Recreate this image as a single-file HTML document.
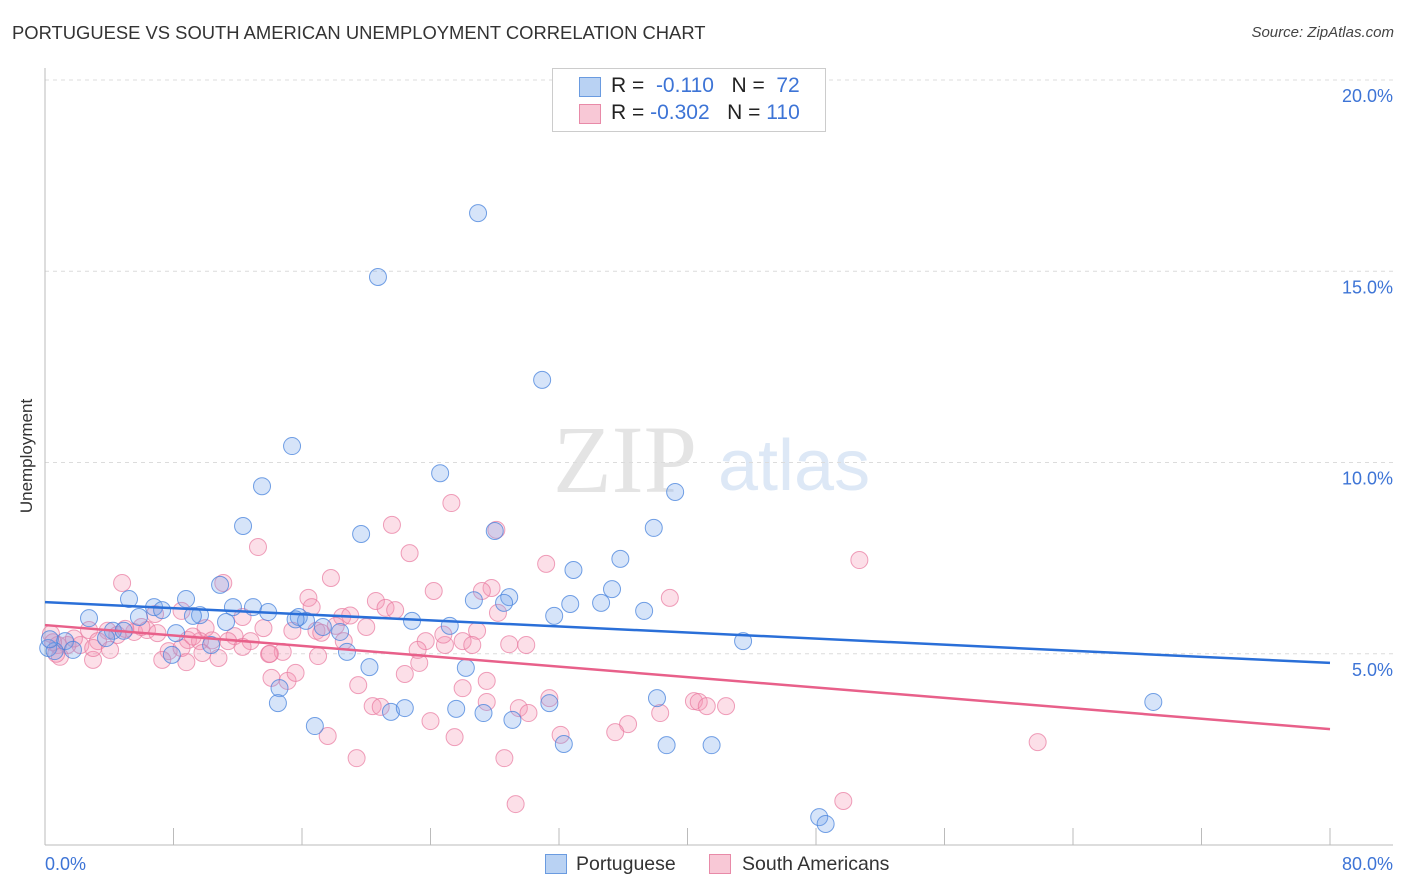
<!DOCTYPE html>
<html><head><meta charset="utf-8"><style>
body{margin:0;background:#fff;font-family:"Liberation Sans",sans-serif;}
#wrap{position:relative;width:1406px;height:892px;overflow:hidden;}
.t{position:absolute;white-space:nowrap;}
</style></head><body>
<div id="wrap">
<div class="t" style="left:12px;top:22px;font-size:18.4px;color:#333;">PORTUGUESE VS SOUTH AMERICAN UNEMPLOYMENT CORRELATION CHART</div>
<div class="t" style="right:12px;top:24px;font-size:15px;color:#444;font-style:italic;">Source: ZipAtlas.com</div>
<div class="t" style="left:27px;top:456px;font-size:17px;color:#333;transform:translate(-50%,-50%) rotate(-90deg);">Unemployment</div>
<svg id="plot" width="1406" height="892" style="position:absolute;left:0;top:0"></svg>
<div style="position:absolute;left:552px;top:68px;width:272px;height:62px;border:1px solid #ccc;background:#fff;font-size:21px;">
 <div style="position:absolute;left:26px;top:8px;width:20px;height:18px;background:#b9d2f3;border:1px solid #6a9be0;"></div>
 <div class="t" style="left:58px;top:5px;color:#222;">R = &nbsp;<span style="color:#3d74d6">-0.110</span> &nbsp;&nbsp;N = &nbsp;<span style="color:#3d74d6">72</span></div>
 <div style="position:absolute;left:26px;top:35px;width:20px;height:18px;background:#f8c8d6;border:1px solid #e88aa8;"></div>
 <div class="t" style="left:58px;top:32px;color:#222;">R = <span style="color:#3d74d6">-0.302</span> &nbsp;&nbsp;N = <span style="color:#3d74d6">110</span></div>
</div>
<div style="position:absolute;left:545px;top:852px;font-size:19.5px;color:#333;">
 <div style="position:absolute;left:0;top:2px;width:20px;height:18px;background:#b9d2f3;border:1px solid #6a9be0;"></div>
 <div class="t" style="left:31px;top:1px;">Portuguese</div>
 <div style="position:absolute;left:164px;top:2px;width:20px;height:18px;background:#f8c8d6;border:1px solid #e88aa8;"></div>
 <div class="t" style="left:197px;top:1px;">South Americans</div>
</div>
</div>
<script>
const xTicks=[0,8,16,24,32,40,48,56,64,72,80];
const yTicks=[5,10,15,20];
const yTickLabels=["5.0%","10.0%","15.0%","20.0%"];
const xEndLabels=["0.0%","80.0%"];
const portX=[26.96,20.73,30.95,15.38,24.6,13.51,39.23,12.33,19.68,28.0,37.9,35.82,32.9,10.9,35.3,11.7,5.23,8.78,6.79,28.9,28.58,32.7,34.62,37.3,31.7,7.29,12.95,13.89,2.74,5.85,9.65,9.21,15.8,16.25,22.85,11.27,25.2,43.46,18.37,4.23,4.9,8.16,1.25,3.8,10.34,0.2,0.6,1.74,18.8,7.9,20.2,26.2,14.6,14.5,38.1,31.4,16.8,21.54,22.4,25.6,27.3,29.1,32.3,38.7,41.5,69.0,48.2,48.6,0.3,15.6,17.3,26.7];
const portY=[16.52,14.85,12.16,10.43,9.72,9.38,9.23,8.34,8.13,8.21,8.29,7.48,7.19,6.8,6.69,6.22,6.43,6.43,6.22,6.48,6.33,6.3,6.33,6.12,5.99,6.14,6.22,6.09,5.93,5.96,6.01,5.99,5.96,5.86,5.86,5.83,5.73,5.33,5.57,5.6,5.6,5.54,5.33,5.41,5.23,5.15,5.07,5.1,5.05,4.97,4.65,4.63,4.1,3.71,3.84,3.71,3.11,3.48,3.58,3.56,3.45,3.27,2.64,2.61,2.61,3.74,0.73,0.55,5.38,5.9,5.7,6.4];
const saX=[25.3,21.6,28.1,13.26,22.7,50.7,31.2,17.8,4.8,24.2,27.8,27.2,38.9,16.4,11.1,8.5,6.85,16.6,20.6,21.2,21.8,28.2,18.5,12.3,10.0,18.1,13.6,20.0,26.9,15.4,5.55,6.35,2.74,0.37,26.0,23.7,24.9,26.6,28.9,29.96,16.9,18.6,11.8,12.8,11.4,8.9,9.65,7.0,3.9,4.5,3.3,2.2,1.4,0.8,0.93,2.99,4.05,7.7,8.5,9.8,7.3,8.8,10.8,12.3,13.95,14.8,17.0,23.3,26.0,27.5,14.1,15.1,15.6,19.5,22.4,20.4,20.9,24.0,25.5,27.5,29.5,31.4,32.1,30.1,36.3,35.5,38.3,40.4,40.7,41.2,42.4,17.6,19.4,28.6,29.3,49.7,61.8,0.5,0.7,17.2,23.2,6.0,10.4,19.0,24.8,1.8,3.0,5.0,9.2,14.0];
const saY=[8.94,8.37,8.24,7.79,7.63,7.45,7.35,6.98,6.85,6.64,6.72,6.64,6.46,6.46,6.85,6.12,6.04,6.22,6.38,6.2,6.14,6.07,5.96,5.96,5.67,5.73,5.67,5.7,5.6,5.6,5.57,5.62,5.62,5.52,5.33,5.33,5.23,5.23,5.25,5.23,5.6,5.33,5.46,5.33,5.33,5.36,5.33,5.54,5.6,5.49,5.33,5.23,5.23,5.23,4.92,4.84,5.1,5.07,5.15,5.02,4.84,4.78,4.89,5.18,4.99,5.05,4.94,4.76,4.1,4.29,4.37,4.29,4.5,4.18,4.47,3.63,3.61,3.24,2.82,3.74,3.58,3.84,2.88,3.45,3.16,2.95,3.45,3.76,3.74,3.63,3.63,2.85,2.27,2.27,1.07,1.15,2.69,5.3,5.0,5.55,5.1,5.7,5.35,6.0,5.5,5.4,5.15,5.65,5.45,5.0];
const portTrend=[6.35,4.76];
const saTrend=[5.75,3.03];
const NS="http://www.w3.org/2000/svg";
const svg=document.getElementById('plot');
const X0=45,X1=1330,Y0=845;
const xs=v=>X0+(v/80)*(X1-X0);
const ys=v=>Y0-v*38.25;
function mk(tag,attrs){const e=document.createElementNS(NS,tag);for(const k in attrs)e.setAttribute(k,attrs[k]);svg.appendChild(e);return e;}
let w1=mk('text',{x:553,y:492,'font-size':96,'font-family':'Liberation Serif, serif',fill:'#e4e4e4'});w1.textContent='ZIP';


let w2=mk('text',{x:718,y:490,'font-size':72,'font-family':'Liberation Sans, sans-serif',fill:'#dde8f6'});w2.textContent='atlas';


yTicks.forEach((t,i)=>{
 const g=mk('line',{x1:X0,x2:1393,y1:ys(t),y2:ys(t),stroke:'#dcdcdc','stroke-dasharray':'4,4'});
 
 
 const tx=mk('text',{x:1393,y:ys(t)+22,'text-anchor':'end','font-size':18,fill:'#3d74d6','font-family':'Liberation Sans, sans-serif'});
 tx.textContent=yTickLabels[i];
 
 
});
const ax=mk('line',{x1:X0,x2:X0,y1:68,y2:Y0,stroke:'#bbb'});


const bx=mk('line',{x1:X0,x2:1393,y1:Y0,y2:Y0,stroke:'#bbb'});


xTicks.forEach(v=>{
 const tk=mk('line',{x1:xs(v),x2:xs(v),y1:828,y2:Y0,stroke:'#bbb'});
 
 
});
const l0=mk('text',{x:45,y:870,'font-size':18,fill:'#3d74d6','font-family':'Liberation Sans, sans-serif'});l0.textContent=xEndLabels[0];


const l1=mk('text',{x:1393,y:870,'text-anchor':'end','font-size':18,fill:'#3d74d6','font-family':'Liberation Sans, sans-serif'});l1.textContent=xEndLabels[1];


saX.forEach((v,i)=>{
 const c=mk('circle',{cx:xs(v),cy:ys(saY[i]),r:8.5,fill:'rgba(244,150,180,0.3)',stroke:'rgba(232,120,158,0.7)','stroke-width':1});
 
 
});
portX.forEach((v,i)=>{
 const c=mk('circle',{cx:xs(v),cy:ys(portY[i]),r:8.5,fill:'rgba(120,165,235,0.3)',stroke:'rgba(70,130,220,0.75)','stroke-width':1});
 
 
});
const tp=mk('line',{x1:xs(0),x2:xs(80),y1:ys(portTrend[0]),y2:ys(portTrend[1]),stroke:'#2a6fd8','stroke-width':2.5});


const ts=mk('line',{x1:xs(0),x2:xs(80),y1:ys(saTrend[0]),y2:ys(saTrend[1]),stroke:'#e8608a','stroke-width':2.5});


</script>
</body></html>
